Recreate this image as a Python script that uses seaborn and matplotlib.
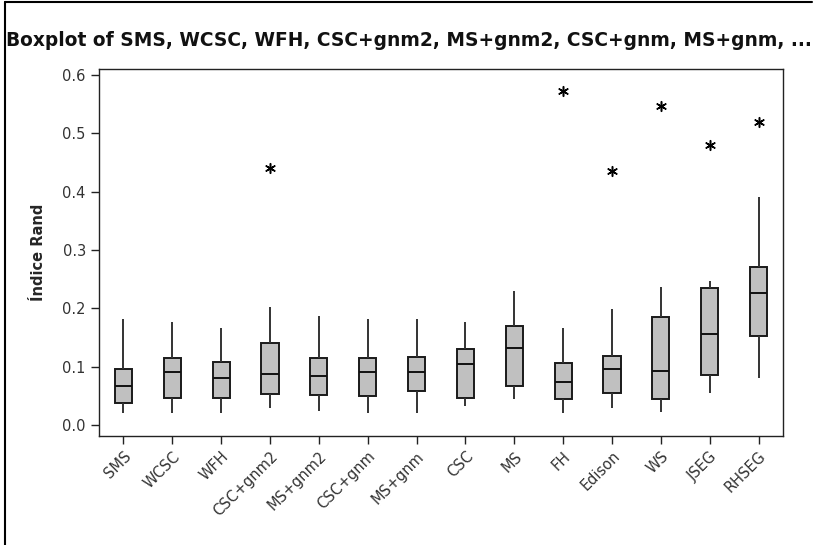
import numpy as np
import pandas as pd
import matplotlib
matplotlib.use("Agg")
import matplotlib.pyplot as plt
import seaborn as sns
from matplotlib.lines import Line2D

categories = ["SMS", "WCSC", "WFH", "CSC+gnm2", "MS+gnm2", "CSC+gnm", "MS+gnm",
              "CSC", "MS", "FH", "Edison", "WS", "JSEG", "RHSEG"]
# five-number summaries: whisker low, Q1, median, Q3, whisker high
whisker_low = [0.021, 0.021, 0.020, 0.029, 0.024, 0.021, 0.021, 0.032, 0.044, 0.021, 0.029, 0.022, 0.054, 0.080]
q1          = [0.037, 0.046, 0.046, 0.053, 0.052, 0.049, 0.059, 0.046, 0.066, 0.044, 0.054, 0.044, 0.086, 0.152]
median      = [0.066, 0.090, 0.081, 0.088, 0.084, 0.090, 0.090, 0.105, 0.132, 0.074, 0.096, 0.093, 0.156, 0.227]
q3          = [0.096, 0.115, 0.108, 0.140, 0.115, 0.115, 0.117, 0.130, 0.169, 0.107, 0.118, 0.185, 0.235, 0.271]
whisker_high= [0.181, 0.177, 0.167, 0.203, 0.186, 0.181, 0.181, 0.177, 0.230, 0.166, 0.199, 0.237, 0.247, 0.390]
outlier_cats = ["CSC+gnm2", "FH", "Edison", "WS", "JSEG", "RHSEG"]
outlier_vals = [0.440, 0.573, 0.436, 0.547, 0.480, 0.519]

rows = []
for i, c in enumerate(categories):
    for v in (whisker_low[i], q1[i], median[i], q3[i], whisker_high[i]):
        rows.append({"method": c, "value": v})
df = pd.DataFrame(rows)
df_out = pd.DataFrame({"method": outlier_cats, "value": outlier_vals})

sns.set_style("white")
plt.rcParams["font.family"] = ["DejaVu Sans"]

fig = plt.figure(figsize=(8.14, 5.45), dpi=100)
ax = fig.add_axes([99/814, 1-435.5/545, (783-99)/814, (435.5-69)/545])

sns.boxplot(data=df, x="method", y="value", order=categories, ax=ax,
            whis=(0, 100), width=0.35, color="#c0c0c0", saturation=1,
            showcaps=False, showfliers=False, linecolor="#1a1a1a", linewidth=1.4,
            whiskerprops=dict(color="#333333", linewidth=1.4),
            medianprops=dict(color="#111111", linewidth=1.4))
sns.stripplot(data=df_out, x="method", y="value", order=categories, ax=ax,
              jitter=False, marker=(6, 2, 0), size=7, color="black", linewidth=1.1,
              edgecolor="black")

ax.set_xlim(-0.5, 13.5)
ax.set_ylim(-0.018, 0.61)
ax.set_yticks([0.0, 0.1, 0.2, 0.3, 0.4, 0.5, 0.6])
ax.set_yticklabels(["0.0", "0.1", "0.2", "0.3", "0.4", "0.5", "0.6"])
ax.set_xlabel("")
ax.set_ylabel("Índice Rand", fontsize=10.5, fontweight="bold", labelpad=12)
for s in ax.spines.values():
    s.set_visible(True)
    s.set_color("#222222")
    s.set_linewidth(1.0)
ax.tick_params(axis="both", which="both", direction="out", length=6, width=1,
               color="#222222", labelsize=10.5, labelcolor="#333333",
               left=True, bottom=True)
for lab in ax.get_xticklabels():
    lab.set_rotation(45)
    lab.set_ha("right")
    lab.set_rotation_mode("anchor")

fig.text(6/814, 1-40/545, "Boxplot of SMS, WCSC, WFH, CSC+gnm2, MS+gnm2, CSC+gnm, MS+gnm, ...",
         fontsize=13.4, fontweight="bold", ha="left", va="center", color="#111111")

# outer frame of the screenshot
fig.add_artist(Line2D([5/814, 5/814], [0, 1-2/545], transform=fig.transFigure, color="black", lw=1.5))
fig.add_artist(Line2D([5/814, 812/814], [1-2/545, 1-2/545], transform=fig.transFigure, color="black", lw=1.5))

fig.savefig("out.png", dpi=100)
